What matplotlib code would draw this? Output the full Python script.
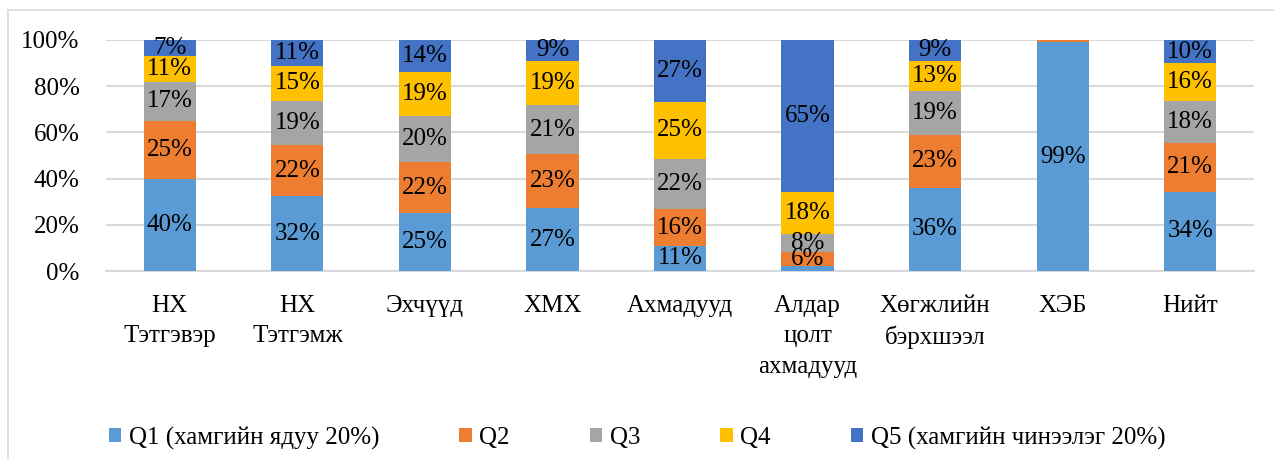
import numpy as np
import matplotlib.pyplot as plt
from matplotlib.patches import Rectangle

plt.rcParams['font.family'] = ['Liberation Serif', 'DejaVu Serif']

categories = ['НХ\nТэтгэвэр', 'НХ\nТэтгэмж', 'Эхчүүд', 'ХМХ', 'Ахмадууд',
              'Алдар\nцолт\nахмадууд', 'Хөгжлийн\nбэрхшээл', 'ХЭБ', 'Нийт']
series = ['Q1 (хамгийн ядуу 20%)', 'Q2', 'Q3', 'Q4', 'Q5 (хамгийн чинээлэг 20%)']
q1 = [40, 32, 25, 27, 11, 2, 36, 99, 34]
q2 = [25, 22, 22, 23, 16, 6, 23, 1, 21]
q3 = [17, 19, 20, 21, 22, 8, 19, 0, 18]
q4 = [11, 15, 19, 19, 25, 18, 13, 0, 16]
q5 = [7, 11, 14, 9, 27, 65, 9, 0, 10]
colors = ['#5B9BD5', '#ED7D31', '#A5A5A5', '#FFC000', '#4472C4']

data = np.array([q1, q2, q3, q4, q5], dtype=float)
shares = data / data.sum(axis=0)  # 100% stacked

fig = plt.figure(figsize=(12.74, 4.59), dpi=100)
ax = fig.add_axes([106/1274, 1 - 271/459, (1254-106)/1274, (271-40)/459])

# chart border
fig.patches.append(Rectangle((8/1274, -0.05), 1.1, 1 - 10/459 + 0.05,
                             transform=fig.transFigure, fill=False,
                             edgecolor='#D9D9D9', lw=1.2))

x = np.arange(len(categories))
bottom = np.zeros(len(categories))
for i in range(5):
    ax.bar(x, shares[i], 0.41, bottom=bottom, color=colors[i], label=series[i],
           zorder=3)
    for j in range(len(categories)):
        if data[i, j] >= 5:
            ax.text(x[j], bottom[j] + shares[i, j] / 2, '%d%%' % data[i, j],
                    ha='center', va='center', fontsize=18, color='black', zorder=4)
    bottom += shares[i]

ax.set_xlim(-0.5, len(categories) - 0.5)
ax.set_ylim(0, 1)
ax.set_yticks(np.arange(0, 1.01, 0.2))
ax.set_yticklabels(['%d%%' % v for v in range(0, 101, 20)], fontsize=18)
ax.set_xticks(x)
ax.set_xticklabels(categories, fontsize=18, va='top', linespacing=1.5)
ax.tick_params(axis='both', length=0)
ax.tick_params(axis='x', pad=17)
ax.tick_params(axis='y', pad=19)
ax.grid(axis='y', color='#D9D9D9', lw=1.5, zorder=0)
for s in ['top', 'right', 'left']:
    ax.spines[s].set_visible(False)
ax.spines['bottom'].set_color('#D9D9D9')
ax.spines['bottom'].set_linewidth(1.5)

fig.legend(loc='center', bbox_to_anchor=(0.5, 1 - 438/459), ncol=5, frameon=False,
           fontsize=18, handlelength=0.5, handleheight=0.5, handletextpad=0.3,
           columnspacing=3.2)

fig.savefig('out.png', dpi=100)
